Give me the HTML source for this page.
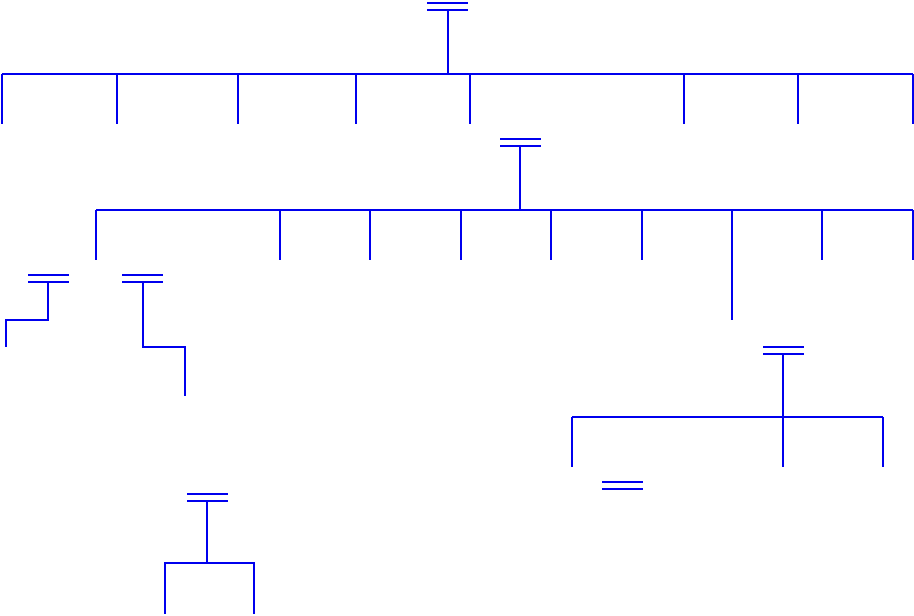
<!DOCTYPE html>
<html><head><meta charset="utf-8"><style>html,body{margin:0;padding:0;background:#fff;}svg{display:block}</style></head>
<body>
<svg width="914" height="616" viewBox="0 0 914 616" xmlns="http://www.w3.org/2000/svg" fill="none" stroke="#0000ee" stroke-width="2">
<!-- top -->
<line x1="427" y1="3" x2="468" y2="3"/><line x1="427" y1="10" x2="468" y2="10"/>
<line x1="448" y1="10" x2="448" y2="74"/>
<line x1="2" y1="74" x2="913" y2="74"/>
<path d="M2 74V124M117 74V124M238 74V124M356 74V124M470 74V124M684 74V124M798 74V124M913 74V124"/>
<!-- second -->
<line x1="500" y1="139" x2="541" y2="139"/><line x1="500" y1="146" x2="541" y2="146"/>
<line x1="520" y1="146" x2="520" y2="210"/>
<line x1="96" y1="210" x2="913" y2="210"/>
<path d="M96 210V260M280 210V260M370 210V260M461 210V260M551 210V260M642 210V260M732 210V320M822 210V260M913 210V260"/>
<!-- left 1 -->
<line x1="28" y1="275" x2="69" y2="275"/><line x1="28" y1="282" x2="69" y2="282"/>
<path d="M48 282V320H6V347"/>
<!-- left 2 -->
<line x1="122" y1="275" x2="163" y2="275"/><line x1="122" y1="282" x2="163" y2="282"/>
<path d="M143 282V347H185V396"/>
<!-- right -->
<line x1="763" y1="347" x2="804" y2="347"/><line x1="763" y1="354" x2="804" y2="354"/>
<line x1="783" y1="354" x2="783" y2="417"/>
<line x1="572" y1="417" x2="883" y2="417"/>
<path d="M572 417V467M783 417V467M883 417V467"/>
<line x1="602" y1="482" x2="643" y2="482"/><line x1="602" y1="489" x2="643" y2="489"/>
<!-- bottom -->
<line x1="187" y1="494" x2="228" y2="494"/><line x1="187" y1="501" x2="228" y2="501"/>
<line x1="207" y1="501" x2="207" y2="563"/>
<path d="M165 614V563H254V614"/>
</svg>
</body></html>
